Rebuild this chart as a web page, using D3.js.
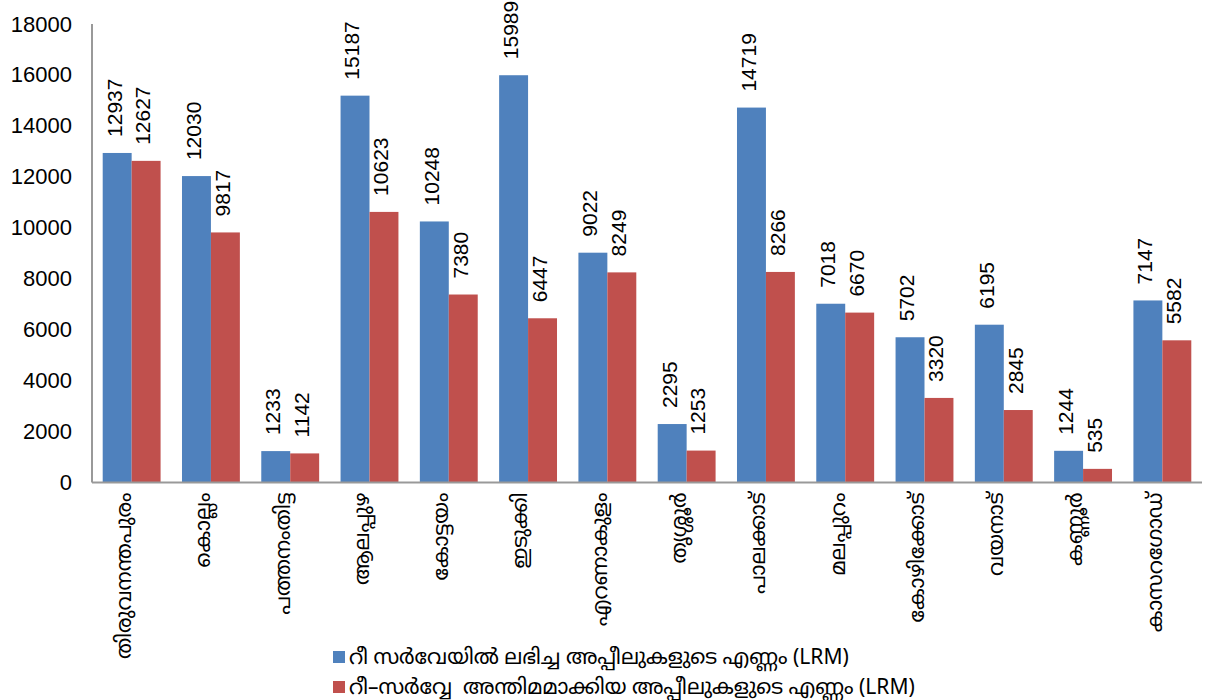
<!DOCTYPE html>
<html>
<head>
<meta charset="utf-8">
<script src="https://cdn.jsdelivr.net/npm/d3@7"></script>
<style>
  html, body { margin: 0; padding: 0; background: #fff; }
  svg { display: block; overflow: visible; }
  text { font-family: "Liberation Sans", "Noto Sans", sans-serif; fill: #000; }
</style>
</head>
<body>
<svg id="chart" width="1207" height="700"></svg>
<script>
const categories = ["തിരുവനന്തപുരം", "കൊല്ലം", "പത്തനംതിട്ട", "ആലപ്പുഴ", "കോട്ടയം", "ഇടുക്കി", "എറണാകുളം", "തൃശ്ശൂർ", "പാലക്കാട്", "മലപ്പുറം", "കോഴിക്കോട്", "വയനാട്", "കണ്ണൂർ", "കാസറഗോഡ്"];
const receivedAppeals = [12937, 12030, 1233, 15187, 10248, 15989, 9022, 2295, 14719, 7018, 5702, 6195, 1244, 7147];
const finalizedAppeals = [12627, 9817, 1142, 10623, 7380, 6447, 8249, 1253, 8266, 6670, 3320, 2845, 535, 5582];
const seriesNames = ["റീ സർവേയിൽ ലഭിച്ച അപ്പീലുകളുടെ എണ്ണം (LRM)", "റീ–സർവ്വേ  അന്തിമമാക്കിയ അപ്പീലുകളുടെ എണ്ണം (LRM)"];
const seriesColors = ["#4F81BD", "#C0504D"];
const yTicks = [0, 2000, 4000, 6000, 8000, 10000, 12000, 14000, 16000, 18000];

const svg = d3.select("#chart");
const mLeft = 92, mRight = 1202, mTop = 24, mBottom = 482.5;

const x = d3.scaleBand().domain(categories).range([mLeft, mRight]).paddingInner(0.27).paddingOuter(0.135);
const xs = d3.scaleBand().domain([0, 1]).range([0, x.bandwidth()]);
const y = d3.scaleLinear().domain([0, 18000]).range([mBottom, mTop]);

const series = [receivedAppeals, finalizedAppeals];

// bars
series.forEach((vals, si) => {
  svg.append("g").selectAll("rect").data(vals).join("rect")
    .attr("x", (d, i) => x(categories[i]) + xs(si))
    .attr("y", d => y(d))
    .attr("width", xs.bandwidth())
    .attr("height", d => y(0) - y(d))
    .attr("fill", seriesColors[si]);
});

// data labels
series.forEach((vals, si) => {
  svg.append("g").selectAll("text").data(vals).join("text")
    .attr("transform", (d, i) => `translate(${x(categories[i]) + xs(si) + xs.bandwidth() / 2 - 3},${y(d) - 16}) rotate(-90)`)
    .attr("text-anchor", "start")
    .attr("dy", "0.35em")
    .style("font-size", "21px")
    .text(d => d);
});

// y axis
const yAxis = d3.axisLeft(y).tickValues(yTicks).tickSize(0).tickPadding(20).tickFormat(d3.format("d"));
const yg = svg.append("g").attr("transform", `translate(${mLeft},0)`).call(yAxis);
yg.select(".domain").attr("stroke", "#999").attr("stroke-width", 2).attr("d", `M0,${mTop}V${mBottom}`);
yg.selectAll("text").style("font-size", "22px").attr("fill", "#000");

// x axis
const xAxis = d3.axisBottom(x).tickSize(0).tickFormat("");
const xg = svg.append("g").attr("transform", `translate(0,${mBottom})`).call(xAxis);
xg.select(".domain").attr("stroke", "#999").attr("stroke-width", 2).attr("d", `M${mLeft},0H${mRight}`);

svg.append("g").selectAll("text").data(categories).join("text")
  .attr("transform", d => `translate(${x(d) + x.bandwidth() / 2 - 8},${mBottom + 10}) rotate(-90)`)
  .attr("text-anchor", "end")
  .attr("dy", "0.35em")
  .style("font-size", "21px")
  .style("font-family", "'Noto Sans', 'Noto Sans Malayalam', sans-serif")
  .text(d => d);

// legend
const legend = svg.append("g");
seriesNames.forEach((name, i) => {
  const ly = 657 + i * 30;
  legend.append("rect").attr("x", 333).attr("y", ly - 6).attr("width", 12).attr("height", 12).attr("fill", seriesColors[i]);
  legend.append("text").attr("x", 349).attr("y", ly).attr("dy", "0.35em")
    .style("font-size", "21px")
    .style("white-space", "pre")
    .style("font-family", "'Noto Sans', 'Noto Sans Malayalam', sans-serif")
    .text(name);
});
</script>
</body>
</html>
